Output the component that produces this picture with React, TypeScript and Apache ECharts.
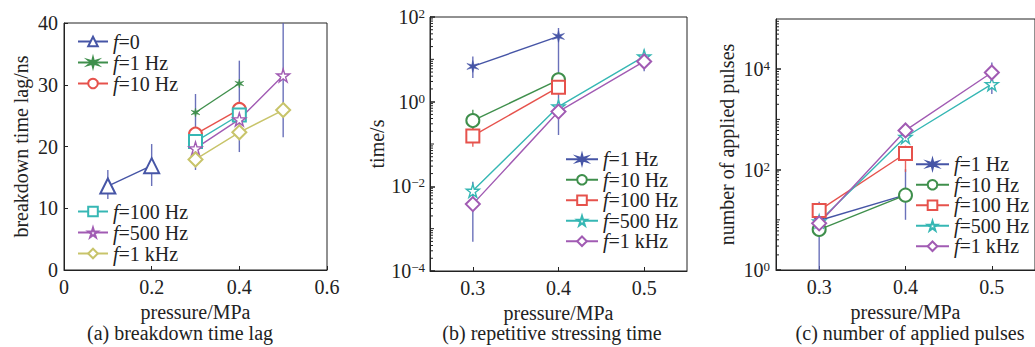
import React, { useEffect, useRef } from 'react';
import * as echarts from 'echarts';

const FONT = '"Liberation Serif", "Times New Roman", serif';
const INK = '#222';
const FS = 20;

// colours
const BLUE = '#4655a6';
const GREEN = '#3f8f4c';
const RED = '#e6524c';
const CYAN = '#36b7b4';
const PURPLE = '#a15bb3';
const YELLOW = '#c8c46a';
const ERRA = '#5a62b2';

// ---------- panel (a): breakdown time lag ----------
const aXf0 = [0.1, 0.2];
const aXlow = [0.3, 0.4];
const aXall = [0.3, 0.4, 0.5];
const aF0 = [13.6, 16.9];
const aF1 = [25.5, 30.2];
const aF10 = [22.0, 26.0];
const aF100 = [20.8, 25.1];
const aF500 = [19.7, 24.4, 31.5];
const aF1k = [17.9, 22.3, 25.9];
const aErr = [
  [0.1, 11.5, 16.2],
  [0.2, 13.6, 20.4],
  [0.3, 16.2, 28.5],
  [0.4, 19.1, 33.9],
  [0.5, 21.5, 40],
];
const aXTicks = [0, 0.2, 0.4, 0.6];
const aYTicks = [0, 10, 20, 30, 40];

// ---------- panel (b): repetitive stressing time ----------
const bX2 = [0.3, 0.4];
const bX3 = [0.3, 0.4, 0.5];
const bF1 = [6.8, 34.8];
const bF10 = [0.357, 3.28];
const bF100 = [0.155, 2.2];
const bF500 = [0.00785, 0.766, 11.7];
const bF1k = [0.0038, 0.583, 8.9];
const bErrBlue = [
  [0.3, 3.6, 11.7],
  [0.3, 0.00049, 0.0128],
  [0.4, 0.163, 55],
  [0.5, 5.2, 16.8],
];
const bErrGreen = [[0.3, 0.196, 0.64], [0.4, 1.6, 5.0]];
const bErrRed = [[0.3, 0.0865, 0.257]];
const bYLabels = [1e-4, 1e-2, 1, 1e2];

// ---------- panel (c): number of applied pulses ----------
const cF1 = [9.7, 31.3];
const cF10 = [6.4, 31.0];
const cF100 = [15.4, 209];
const cF500 = [9.3, 446, 5050];
const cF1k = [8.5, 603, 8600];
const cErrBlue = [
  [0.3, 1, 23],
  [0.4, 10, 102],
  [0.5, 3200, 13600],
];
const cErrPurple = [[0.4, 445, 820]];
const cErrRed = [[0.4, 90, 300]];
const cYLabels = [1, 1e2, 1e4];

const pressureTicks = [0.3, 0.4, 0.5];

const LABELS: Record<string, string> = {
  a0: '{i|f}=0', a1: '{i|f}=1 Hz', a2: '{i|f}=10 Hz', a3: '{i|f}=100 Hz', a4: '{i|f}=500 Hz', a5: '{i|f}=1 kHz',
  b1: '{i|f}=1 Hz', b2: '{i|f}=10 Hz', b3: '{i|f}=100 Hz', b4: '{i|f}=500 Hz', b5: '{i|f}=1 kHz',
  c1: '{i|f}=1 Hz', c2: '{i|f}=10 Hz', c3: '{i|f}=100 Hz', c4: '{i|f}=500 Hz', c5: '{i|f}=1 kHz',
};

const STAR5 = 'path://M50,0 L61,35 L98,35 L68,57 L79,91 L50,70 L21,91 L32,57 L2,35 L39,35 Z';
const STAR6 = 'path://M50,0 L58,36 L93,25 L66,50 L93,75 L58,64 L50,100 L42,64 L7,75 L34,50 L7,25 L42,36 Z';

type Mk = 'tri' | 'ast' | 'circ' | 'sq' | 'star' | 'dia';

function lineSeries(name: string, xs: number[], ys: number[], color: string, mk: Mk, gi: number) {
  const sym: Record<Mk, [string, number]> = {
    tri: ['emptyTriangle', 15],
    ast: [STAR6, gi === 0 ? 9 : 12],
    circ: ['emptyCircle', 13],
    sq: ['emptyRect', 13],
    star: [STAR5, 13],
    dia: ['emptyDiamond', 14],
  };
  const [symbol, size] = sym[mk];
  const itemStyle: any =
    mk === 'star'
      ? { color: '#ffffff', borderColor: color, borderWidth: 1.4 }
      : mk === 'ast'
      ? { color, borderColor: color, borderWidth: 0.5 }
      : { color, borderWidth: 1.4 };
  return {
    type: 'line',
    name,
    xAxisIndex: gi,
    yAxisIndex: gi,
    data: xs.map((x, i) => [x, ys[i]]),
    symbol,
    symbolSize: size,
    showAllSymbol: true,
    lineStyle: { color, width: 1.4 },
    itemStyle,
    z: 3,
  };
}

function errSeries(data: number[][], color: string, gi: number) {
  return {
    type: 'custom',
    xAxisIndex: gi,
    yAxisIndex: gi,
    data,
    encode: { x: 0, y: [1, 2] },
    silent: true,
    z: 2,
    renderItem: (_p: any, api: any) => {
      const x = api.value(0);
      const a = api.coord([x, api.value(1)]);
      const b = api.coord([x, api.value(2)]);
      return {
        type: 'line',
        shape: { x1: a[0], y1: a[1], x2: b[0], y2: b[1] },
        style: { stroke: color, lineWidth: 1.4, opacity: 0.9 },
      };
    },
  };
}

function minorTicks(xmin: number, d0: number, d1: number, gi: number, labelled: number[]) {
  const vals: number[][] = [];
  for (let d = d0; d < d1; d++) {
    for (let k = 1; k <= 9; k++) {
      const v = k * Math.pow(10, d);
      if (labelled.some((l) => Math.abs(l - v) / v < 1e-6)) continue;
      vals.push([xmin, v, k === 1 ? 4 : 3]);
    }
  }
  return {
    type: 'custom',
    xAxisIndex: gi,
    yAxisIndex: gi,
    data: vals,
    encode: { x: 0, y: 1 },
    silent: true,
    z: 4,
    renderItem: (_p: any, api: any) => {
      const p = api.coord([api.value(0), api.value(1)]);
      return {
        type: 'line',
        shape: { x1: p[0], y1: p[1], x2: p[0] + api.value(2), y2: p[1] },
        style: { stroke: INK, lineWidth: 1 },
      };
    },
  };
}

const txt = { fontFamily: FONT, fontSize: FS, color: INK };

function supLabel(v: number) {
  const e = Math.round(Math.log10(v));
  const es = e < 0 ? '−' + -e : String(e);
  return `{b|10}{s|${es}}`;
}
const supRich = {
  b: { fontFamily: FONT, fontSize: FS, color: INK },
  s: { fontFamily: FONT, fontSize: 13, color: INK, verticalAlign: 'top', padding: [0, 0, 7, 0] },
};

function legend(data: string[], left: number, top: number, w: number, lh: number) {
  return {
    data,
    left,
    top,
    orient: 'vertical',
    itemWidth: w,
    itemHeight: 12,
    itemGap: 0,
    padding: 0,
    selectedMode: false,
    formatter: (n: string) => LABELS[n],
    textStyle: {
      ...txt,
      lineHeight: lh,
      rich: { i: { fontFamily: FONT, fontSize: FS, fontStyle: 'italic', color: INK, lineHeight: lh } },
    },
  };
}

const gridBase = { show: true, borderColor: INK, borderWidth: 1, backgroundColor: 'transparent' };

const xName = (gap: number) => ({
  name: 'pressure/MPa',
  nameLocation: 'middle',
  nameGap: gap,
  nameTextStyle: txt,
});

const caption = (x: number, text: string) => ({
  type: 'text',
  x,
  y: 333,
  style: { text, font: `${FS}px ${FONT}`, fill: INK, textAlign: 'center', textVerticalAlign: 'middle' },
});

export default function App() {
  const ref = useRef<HTMLDivElement>(null);
  useEffect(() => {
    document.body.style.margin = '0';
    const chart = echarts.init(ref.current!, undefined, { renderer: 'svg' });
    const xAxisLog = (gi: number) => ({
      gridIndex: gi, type: 'value', min: 0.25, max: 0.55, interval: 0.05,
      axisLine: { lineStyle: { color: INK } },
      axisTick: { inside: true, length: 4, lineStyle: { color: INK }, customValues: pressureTicks },
      axisLabel: { ...txt, margin: 7, customValues: pressureTicks },
      splitLine: { show: false },
      ...xName(31),
    });
    const option: any = {
      animation: false,
      backgroundColor: '#ffffff',
      grid: [
        { ...gridBase, left: 64, right: 708, top: 23, bottom: 77 },
        { ...gridBase, left: 430, right: 348, top: 17, bottom: 76 },
        { ...gridBase, left: 776, right: -4, top: 19, bottom: 77 },
      ],
      xAxis: [
        {
          gridIndex: 0, type: 'value', min: 0, max: 0.6, interval: 0.2,
          axisLine: { lineStyle: { color: INK } },
          axisTick: { inside: true, length: 4, lineStyle: { color: INK }, customValues: aXTicks },
          axisLabel: { ...txt, margin: 7, customValues: aXTicks },
          splitLine: { show: false },
          ...xName(31),
        },
        xAxisLog(1),
        xAxisLog(2),
      ],
      yAxis: [
        {
          gridIndex: 0, type: 'value', min: 0, max: 40, interval: 10,
          axisLine: { lineStyle: { color: INK } },
          axisTick: { inside: true, length: 4, lineStyle: { color: INK }, customValues: aYTicks },
          axisLabel: { ...txt, margin: 6, customValues: aYTicks },
          splitLine: { show: false },
          name: 'breakdown time lag/ns', nameLocation: 'middle', nameGap: 33, nameTextStyle: txt,
        },
        {
          gridIndex: 1, type: 'log', logBase: 10, min: 1e-4, max: 1e2,
          axisLine: { lineStyle: { color: INK } },
          axisTick: { inside: true, length: 5, lineStyle: { color: INK, width: 1.5 }, customValues: bYLabels },
          axisLabel: { margin: 5, customValues: bYLabels, formatter: supLabel, rich: supRich },
          splitLine: { show: false },
          name: 'time/s', nameLocation: 'middle', nameGap: 42, nameTextStyle: txt,
        },
        {
          gridIndex: 2, type: 'log', logBase: 10, min: 1, max: 1e5,
          axisLine: { lineStyle: { color: INK } },
          axisTick: { inside: true, length: 5, lineStyle: { color: INK, width: 1.5 }, customValues: cYLabels },
          axisLabel: { margin: 6, customValues: cYLabels, formatter: supLabel, rich: supRich },
          splitLine: { show: false },
          name: 'number of applied pulses', nameLocation: 'middle', nameGap: 39, nameTextStyle: txt,
        },
      ],
      legend: [
        legend(['a0', 'a1', 'a2'], 77, 31, 30, 21),
        legend(['a3', 'a4', 'a5'], 77, 201, 30, 21),
        legend(['b1', 'b2', 'b3', 'b4', 'b5'], 565, 149, 32, 20.5),
        legend(['c1', 'c2', 'c3', 'c4', 'c5'], 915, 154, 33, 20.5),
      ],
      series: [
        errSeries(aErr, ERRA, 0),
        lineSeries('a0', aXf0, aF0, BLUE, 'tri', 0),
        lineSeries('a1', aXlow, aF1, GREEN, 'ast', 0),
        lineSeries('a2', aXlow, aF10, RED, 'circ', 0),
        lineSeries('a3', aXlow, aF100, CYAN, 'sq', 0),
        lineSeries('a4', aXall, aF500, PURPLE, 'star', 0),
        lineSeries('a5', aXall, aF1k, YELLOW, 'dia', 0),

        errSeries(bErrBlue, ERRA, 1),
        errSeries(bErrGreen, GREEN, 1),
        errSeries(bErrRed, RED, 1),
        minorTicks(0.25, -4, 2, 1, bYLabels),
        lineSeries('b1', bX2, bF1, BLUE, 'ast', 1),
        lineSeries('b2', bX2, bF10, GREEN, 'circ', 1),
        lineSeries('b3', bX2, bF100, RED, 'sq', 1),
        lineSeries('b4', bX3, bF500, CYAN, 'star', 1),
        lineSeries('b5', bX3, bF1k, PURPLE, 'dia', 1),

        errSeries(cErrBlue, ERRA, 2),
        errSeries(cErrPurple, PURPLE, 2),
        errSeries(cErrRed, RED, 2),
        minorTicks(0.25, 0, 5, 2, cYLabels),
        lineSeries('c1', bX2, cF1, BLUE, 'ast', 2),
        lineSeries('c2', bX2, cF10, GREEN, 'circ', 2),
        lineSeries('c3', bX2, cF100, RED, 'sq', 2),
        lineSeries('c4', bX3, cF500, CYAN, 'star', 2),
        lineSeries('c5', bX3, cF1k, PURPLE, 'dia', 2),
      ],
      graphic: [
        caption(180, '(a) breakdown time lag'),
        caption(552, '(b) repetitive stressing time'),
        caption(910, '(c) number of applied pulses'),
      ],
    };
    chart.setOption(option);
    return () => chart.dispose();
  }, []);
  return <div ref={ref} style={{ width: 1035, height: 347 }} />;
}
